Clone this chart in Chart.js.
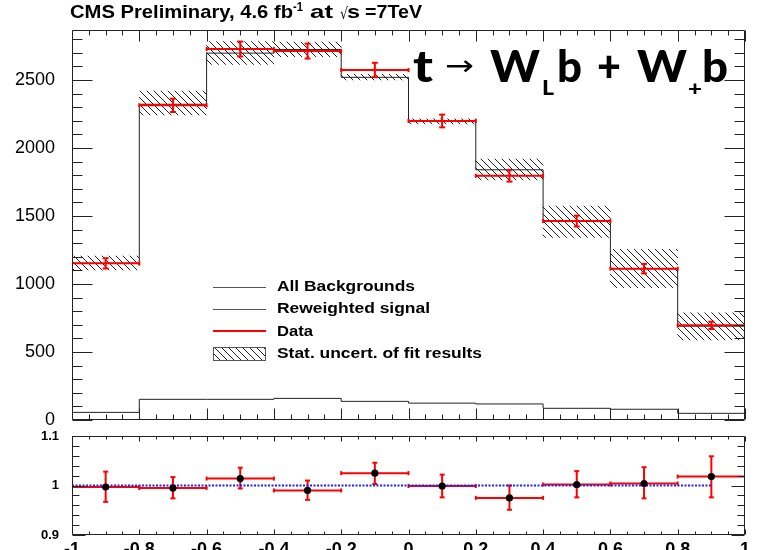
<!DOCTYPE html>
<html><head><meta charset="utf-8">
<script src="https://cdn.jsdelivr.net/npm/chart.js@4.4.1/dist/chart.umd.min.js"></script>
<style>
html,body{margin:0;padding:0;background:#fff;width:758px;height:550px;overflow:hidden}
#c1{position:absolute;left:0;top:0}
#c2{position:absolute;left:0;top:424px}
</style></head><body>
<canvas id="c1" width="758" height="440"></canvas>
<canvas id="c2" width="758" height="126"></canvas>
<script>
// ---------------- data ----------------
const binEdges = [-1, -0.8, -0.6, -0.4, -0.2, 0, 0.2, 0.4, 0.6, 0.8, 1];
const binCenters = [-0.9, -0.7, -0.5, -0.3, -0.1, 0.1, 0.3, 0.5, 0.7, 0.9];
const allBackgrounds = [56, 152, 152, 159, 137, 124, 118, 86, 79, 49];
const fitTotal = [1152, 2322, 2698, 2725, 2520, 2199, 1840, 1460, 1113, 690];
const fitUncLow = [1103, 2243, 2615, 2672, 2500, 2178, 1765, 1343, 973, 588];
const fitUncHigh = [1206, 2419, 2782, 2780, 2542, 2215, 1919, 1574, 1255, 789];
const dataCounts = [1152, 2314, 2728, 2713, 2574, 2199, 1796, 1463, 1113, 696];
const dataErr = [38, 49, 55, 55, 53, 47, 43, 40, 35, 27];
const ratioValues = [0.997, 0.995, 1.014, 0.990, 1.025, 0.999, 0.975, 1.002, 1.004, 1.018];
const ratioErrLow = [0.967, 0.974, 0.994, 0.971, 1.003, 0.976, 0.951, 0.976, 0.974, 0.976];
const ratioErrHigh = [1.028, 1.017, 1.036, 1.010, 1.046, 1.022, 1.000, 1.029, 1.037, 1.059];
const ratioRefX = [-1, 0.9];
const ratioRefY = [1, 1];
const mainYTicks = [0, 500, 1000, 1500, 2000, 2500];
const mainYTickLabels = ['0', '500', '1000', '1500', '2000', '2500'];
const ratioYTicks = [0.9, 1, 1.1];
const ratioYTickLabels = ['0.9', '1', '1.1'];
const xTicks = [-1, -0.8, -0.6, -0.4, -0.2, 0, 0.2, 0.4, 0.6, 0.8, 1];
const xTickLabels = ['-1', '-0.8', '-0.6', '-0.4', '-0.2', '0', '0.2', '0.4', '0.6', '0.8', '1'];
const legendLabels = ['All Backgrounds', 'Reweighted signal', 'Data', 'Stat. uncert. of fit results'];

// ---------------- helpers ----------------
function stepPts(vals) {
  const pts = vals.map((v, i) => ({x: binEdges[i], y: v}));
  pts.push({x: binEdges[binEdges.length - 1], y: vals[vals.length - 1]});
  return pts;
}
function hSeg(vals) {
  const pts = [];
  vals.forEach((v, i) => { pts.push({x: binEdges[i], y: v}, {x: binEdges[i + 1], y: v}, {x: binEdges[i + 1], y: null}); });
  return pts;
}
function vSeg(lo, hi) {
  const pts = [];
  binCenters.forEach((c, i) => { pts.push({x: c, y: lo[i]}, {x: c, y: hi[i]}, {x: c, y: null}); });
  return pts;
}
function makeHatch(ctx) {
  const c = document.createElement('canvas'); c.width = 7; c.height = 7;
  const g = c.getContext('2d');
  g.strokeStyle = '#222'; g.lineWidth = 1;
  g.beginPath();
  g.moveTo(0, 0); g.lineTo(7, 7);
  g.moveTo(-1, 6); g.lineTo(1, 8);
  g.moveTo(6, -1); g.lineTo(8, 1);
  g.stroke();
  return ctx.createPattern(c, 'repeat');
}
function fitText(ctx, txt, x0, x1, baseline, font) {
  ctx.save();
  ctx.font = font;
  ctx.textBaseline = 'alphabetic';
  ctx.textAlign = 'left';
  const w = ctx.measureText(txt).width;
  ctx.translate(x0, baseline);
  ctx.scale((x1 - x0) / w, 1);
  ctx.fillText(txt, 0, 0);
  ctx.restore();
}

const rootFrame = {
  id: 'rootFrame',
  afterDraw(chart, args, o) {
    const {ctx, chartArea: a} = chart;
    const xs = chart.scales.x, ys = chart.scales.y;
    ctx.save();
    ctx.strokeStyle = o.color; ctx.lineWidth = 1;
    ctx.beginPath();
    const L = Math.round(a.left) + 0.5, R = Math.round(a.right) - 0.5;
    const T = Math.round(a.top) + 0.5, B = Math.round(a.bottom) - 0.5;
    ctx.rect(L, T, R - L, B - T);
    const nx = Math.round((xs.max - xs.min) / o.xMinor);
    for (let i = 0; i <= nx; i++) {
      const px = Math.round(xs.getPixelForValue(xs.min + i * o.xMinor)) + 0.5;
      const len = i % o.xPer === 0 ? o.xMajorLen : o.xMinorLen;
      ctx.moveTo(px, B); ctx.lineTo(px, B - len);
      ctx.moveTo(px, T); ctx.lineTo(px, T + len);
    }
    const ny = Math.floor((ys.max - ys.min) / o.yMinor + 1e-6);
    for (let i = 0; i <= ny; i++) {
      const py = Math.round(ys.getPixelForValue(ys.min + i * o.yMinor)) + 0.5;
      const len = i % o.yPer === 0 ? o.yMajorLen : o.yMinorLen;
      ctx.moveTo(L, py); ctx.lineTo(L + len, py);
      ctx.moveTo(R, py); ctx.lineTo(R - len, py);
    }
    ctx.stroke();
    ctx.restore();
  }
};

const annotations = {
  id: 'annotations',
  afterDraw(chart) {
    const ctx = chart.ctx;
    ctx.save();
    ctx.fillStyle = '#000';
    // title
    const tf = 'bold 19px "Liberation Sans", Arial, sans-serif';
    fitText(ctx, 'CMS Preliminary, 4.6 fb', 70, 293, 18, tf);
    fitText(ctx, '-1', 293, 303, 11, 'bold 12px "Liberation Sans", Arial, sans-serif');
    fitText(ctx, 'at', 310, 333, 18, tf);
    fitText(ctx, '\u221A', 340, 348, 19, '16px "DejaVu Sans", sans-serif');
    fitText(ctx, 's', 347, 360, 18, tf);
    fitText(ctx, '=7TeV', 365, 422, 18, tf);
    // formula
    const big = '900 43px Lato, "Open Sans", sans-serif';
    const sub = '900 21px Lato, "Open Sans", sans-serif';
    fitText(ctx, 't', 413, 433, 82, big);
    fitText(ctx, '\u2192', 445, 474, 75, '28px "DejaVu Sans", sans-serif');
    fitText(ctx, 'W', 490, 540, 82, big);
    fitText(ctx, 'L', 542, 554, 95, sub);
    fitText(ctx, 'b', 557, 582, 82, big);
    fitText(ctx, '+', 597, 621, 82, big);
    fitText(ctx, 'W', 637, 687, 82, big);
    fitText(ctx, '+', 688, 702, 96, sub);
    fitText(ctx, 'b', 702, 728, 82, big);
    // legend
    const lf = 'bold 14px "Liberation Sans", Arial, sans-serif';
    const ends = [415, 430, 313, 482];
    const bases = [291, 313, 336, 358];
    legendLabels.forEach((t, i) => fitText(ctx, t, 277, ends[i], bases[i], lf));
    ctx.strokeStyle = '#555'; ctx.lineWidth = 1;
    ctx.beginPath();
    ctx.moveTo(213, 287.5); ctx.lineTo(266, 287.5);
    ctx.moveTo(213, 309.5); ctx.lineTo(266, 309.5);
    ctx.stroke();
    ctx.strokeStyle = '#f00'; ctx.lineWidth = 2;
    ctx.beginPath(); ctx.moveTo(213, 331); ctx.lineTo(266, 331); ctx.stroke();
    ctx.fillStyle = makeHatch(ctx);
    ctx.fillRect(213, 347, 53, 14);
    ctx.strokeStyle = '#555'; ctx.lineWidth = 1;
    ctx.strokeRect(213.5, 347.5, 52, 13);
    ctx.restore();
  }
};

const baseFont = '"Liberation Sans", Arial, sans-serif';
const c1 = document.getElementById('c1');
const ctx1 = c1.getContext('2d');
const hatch = makeHatch(ctx1);

new Chart(c1, {
  type: 'bar',
  data: {
    datasets: [
      { type: 'line', data: vSeg(dataCounts.map((v, i) => v - dataErr[i]), dataCounts.map((v, i) => v + dataErr[i])),
        borderColor: '#f00', borderWidth: 2, spanGaps: false, pointStyle: 'line', pointRotation: 0,
        pointRadius: 3, pointBorderColor: '#f00', pointBorderWidth: 2, order: 0 },
      { type: 'line', data: hSeg(dataCounts), borderColor: '#f00', borderWidth: 2, spanGaps: false,
        pointStyle: 'line', pointRotation: 90, pointRadius: 2, pointBorderColor: '#f00', pointBorderWidth: 2, order: 1 },
      { type: 'line', data: stepPts(fitTotal), stepped: true, borderColor: '#222', borderWidth: 1, pointRadius: 0, order: 3 },
      { type: 'line', data: stepPts(allBackgrounds), stepped: true, borderColor: '#222', borderWidth: 1, pointRadius: 0, order: 4 },
      { type: 'bar', data: binCenters.map((c, i) => ({x: c, y: [fitUncLow[i], fitUncHigh[i]]})),
        backgroundColor: hatch, borderWidth: 0, barPercentage: 1, categoryPercentage: 1, order: 5 }
    ]
  },
  options: {
    responsive: false, animation: false, events: [],
    layout: { padding: { left: 0, right: 13, top: 30, bottom: 0 } },
    plugins: {
      legend: { display: false }, tooltip: { enabled: false },
      rootFrame: { color: '#222', xMinor: 0.05, xPer: 4, xMajorLen: 11, xMinorLen: 5, yMinor: 100, yPer: 5, yMajorLen: 20, yMinorLen: 10 }
    },
    scales: {
      x: { type: 'linear', min: -1, max: 1, offset: false, grid: { display: false }, border: { display: false },
           ticks: { display: false },
           afterBuildTicks: s => { s.ticks = xTicks.map(v => ({value: v})); },
           afterFit: s => { s.height = 20; } },
      y: { type: 'linear', min: 0, max: 2868, grid: { display: false }, border: { display: false },
           ticks: { padding: 9, color: '#000', font: { family: baseFont, size: 18, lineHeight: 1 }, callback: (v, i) => mainYTickLabels[i] },
           afterBuildTicks: s => { s.ticks = mainYTicks.map(v => ({value: v})); },
           afterFit: s => { s.width = 72; } }
    }
  },
  plugins: [rootFrame, annotations]
});

new Chart(document.getElementById('c2'), {
  type: 'line',
  data: {
    datasets: [
      { data: binCenters.map((c, i) => ({x: c, y: ratioValues[i]})), showLine: false,
        pointRadius: 3.6, pointBackgroundColor: '#000', pointBorderColor: '#000', pointBorderWidth: 0, order: 0 },
      { data: ratioRefX.map((x, i) => ({x: x, y: ratioRefY[i]})), borderColor: '#2020ff', borderWidth: 2,
        borderDash: [2, 1.5], pointRadius: 0, order: 1 },
      { data: hSeg(ratioValues), borderColor: '#f00', borderWidth: 2, spanGaps: false,
        pointStyle: 'line', pointRotation: 90, pointRadius: 2, pointBorderColor: '#f00', pointBorderWidth: 2, order: 2 },
      { data: vSeg(ratioErrLow, ratioErrHigh), borderColor: '#f00', borderWidth: 2, spanGaps: false,
        pointStyle: 'line', pointRotation: 0, pointRadius: 2.5, pointBorderColor: '#f00', pointBorderWidth: 2, order: 3 }
    ]
  },
  options: {
    responsive: false, animation: false, events: [],
    layout: { padding: { left: 0, right: 13, top: 12, bottom: 0 } },
    plugins: {
      legend: { display: false }, tooltip: { enabled: false },
      rootFrame: { color: '#222', xMinor: 0.05, xPer: 4, xMajorLen: 5, xMinorLen: 3, yMinor: 0.02, yPer: 5, yMajorLen: 13, yMinorLen: 7 }
    },
    scales: {
      x: { type: 'linear', min: -1, max: 1, offset: false, grid: { display: false }, border: { display: false },
           ticks: { padding: -2, color: '#000', autoSkip: false, maxRotation: 0,
                    font: { family: baseFont, size: 18, weight: 'bold', lineHeight: 1 },
                    callback: (v, i) => xTickLabels[i] },
           afterBuildTicks: s => { s.ticks = xTicks.map(v => ({value: v})); },
           afterFit: s => { s.height = 15; } },
      y: { type: 'linear', min: 0.9, max: 1.1, grid: { display: false }, border: { display: false },
           ticks: { padding: 5, color: '#000', font: { family: baseFont, size: 13, weight: 'bold', lineHeight: 1 },
                    callback: (v, i) => ratioYTickLabels[i] },
           afterBuildTicks: s => { s.ticks = ratioYTicks.map(v => ({value: v})); },
           afterFit: s => { s.width = 72; } }
    }
  },
  plugins: [rootFrame]
});
</script></body></html>
